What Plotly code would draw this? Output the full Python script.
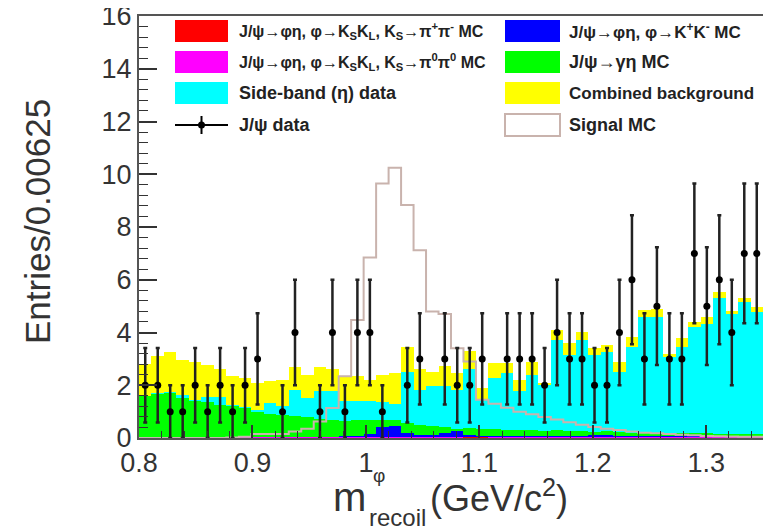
import plotly.graph_objects as go

# ---------------- data ----------------
x_min, x_max, n_bins = 0.8, 1.35, 50
bin_w = (x_max - x_min) / n_bins

jpsi_data = [2, 2, 1, 1, 2, 1, 2, 1, 2, 3, 0, 1, 4, 0, 1, 4, 1, 4, 4, 1,
             0, 2, 3, 0, 3, 2, 2, 3, 0, 3, 3, 3, 2, 4, 3, 3, 2, 2, 4, 6,
             3, 5, 3, 3, 7, 5, 6, 4, 7, 7]

# histogram tops as drawn (each drawn over the previous one)
combined_bkg = [2.8, 3.1, 3.25, 2.95, 2.9, 2.75, 2.6, 2.35, 2.27, 2.08,
                2.15, 2.2, 2.7, 2.4, 2.68, 2.6, 2.34, 2.34, 2.2, 2.4,
                2.46, 3.45, 2.6, 2.5, 2.72, 2.46, 3.28, 1.9, 2.84, 2.84,
                2.2, 2.9, 2.1, 4.09, 3.61, 4.03, 3.42, 3.52, 2.89, 3.84,
                4.87, 4.91, 3.2, 3.78, 4.4, 4.57, 5.54, 4.82, 5.29, 4.97]
sideband_eta = [1.6, 1.7, 1.75, 1.62, 1.45, 1.55, 1.55, 1.25, 1.18, 1.05,
                1.33, 1.2, 1.83, 1.5, 1.8, 1.8, 1.4, 1.4, 1.4, 1.35,
                1.3, 2.5, 1.83, 1.96, 1.96, 1.83, 2.6, 1.45, 2.27, 2.46,
                1.77, 2.4, 2.0, 3.71, 3.14, 3.71, 3.14, 3.27, 2.51, 3.46,
                4.6, 4.6, 3.08, 3.46, 4.22, 4.34, 5.29, 4.72, 5.16, 4.79]
gamma_eta_mc = [1.6, 1.65, 1.7, 1.5, 1.4, 1.35, 1.25, 1.2, 1.14, 1.0,
                0.92, 0.88, 0.82, 0.78, 0.72, 0.7, 0.65, 0.68, 0.7, 0.7,
                0.68, 0.55, 0.48, 0.45, 0.42, 0.35, 0.38, 0.35, 0.33, 0.3,
                0.32, 0.3, 0.28, 0.3, 0.28, 0.25, 0.22, 0.25, 0.22, 0.2,
                0.22, 0.2, 0.2, 0.18, 0.2, 0.18, 0.17, 0.16, 0.15, 0.14]
kk_mc = [0.03, 0.03, 0.03, 0.03, 0.03, 0.03, 0.03, 0.03, 0.03, 0.03,
         0.03, 0.03, 0.03, 0.03, 0.03, 0.03, 0.05, 0.08, 0.15, 0.4,
         0.45, 0.2, 0.12, 0.1, 0.2, 0.25, 0.1, 0.05, 0.05, 0.05,
         0.05, 0.05, 0.05, 0.05, 0.05, 0.05, 0.1, 0.1, 0.05, 0.05,
         0.05, 0.05, 0.05, 0.05, 0.1, 0.05, 0.05, 0.05, 0.05, 0.05]
kskl_00_mc = [0.03] * 50
kskl_pm_mc = [0.0, 0.0, 0.0, 0.0, 0.0, 0.0, 0.0, 0.0, 0.0, 0.0,
              0.0, 0.0, 0.0, 0.0, 0.0, 0.0, 0.0, 0.0, 0.0, 0.0,
              0.0, 0.0, 0.0, 0.0, 0.0, 0.0, 0.02, 0.03, 0.0, 0.0,
              0.0, 0.0, 0.0, 0.0, 0.0, 0.0, 0.0, 0.0, 0.0, 0.0,
              0.0, 0.0, 0.0, 0.0, 0.0, 0.0, 0.0, 0.0, 0.0, 0.0]
signal_mc = [0.0, 0.0, 0.0, 0.0, 0.0, 0.0, 0.0, 0.02, 0.05, 0.15,
             0.15, 0.15, 0.25, 0.35, 0.63, 1.14, 2.34, 4.47, 6.84, 9.65,
             10.25, 8.83, 7.12, 4.8, 4.7, 3.4, 2.9, 1.45, 1.3, 1.15,
             1.0, 0.9, 0.8, 0.7, 0.6, 0.5, 0.42, 0.35, 0.3, 0.25,
             0.2, 0.18, 0.15, 0.12, 0.1, 0.08, 0.07, 0.06, 0.05, 0.05]

x_ticks = [0.8, 0.9, 1.0, 1.1, 1.2, 1.3]
x_tick_labels = ["0.8", "0.9", "1", "1.1", "1.2", "1.3"]
y_ticks = [0, 2, 4, 6, 8, 10, 12, 14, 16]

legend_col1 = [
    "J/ψ→φη, φ→K<sub>S</sub>K<sub>L</sub>, K<sub>S</sub>→π<sup>+</sup>π<sup>-</sup> MC",
    "J/ψ→φη, φ→K<sub>S</sub>K<sub>L</sub>, K<sub>S</sub>→π<sup>0</sup>π<sup>0</sup> MC",
    "Side-band (η) data",
    "J/ψ data",
]
legend_col2 = [
    "J/ψ→φη, φ→K<sup>+</sup>K<sup>-</sup> MC",
    "J/ψ→γη MC",
    "Combined background",
    "Signal MC",
]

# ---------------- figure ----------------
centers = [x_min + bin_w * (i + 0.5) for i in range(n_bins)]
edges = [x_min + bin_w * i for i in range(n_bins + 1)]

# the page body has an 8 px margin: work in page pixels, figure is offset by 8
OFF = 8
W, H = 771 - OFF, 531 - OFF
L, R, T, B = 139, 763, 16, 438  # plot frame in page pixels


def px(xp):
    return (xp - L) / (R - L)


def py(yp):
    return (B - yp) / (B - T)


fig = go.Figure()

layers = [
    (combined_bkg, "#ffff00"),
    (sideband_eta, "#00ffff"),
    (gamma_eta_mc, "#00ff00"),
    (kk_mc, "#0000ff"),
    (kskl_00_mc, "#ff00ff"),
    (kskl_pm_mc, "#ff0000"),
]
for vals, col in layers:
    fig.add_trace(go.Bar(x=centers, y=vals, width=bin_w, marker=dict(color=col, line=dict(width=0)),
                         showlegend=False, hoverinfo="skip"))

# signal MC outline (step)
sx = [edges[0]] + centers + [edges[-1]]
sy = [signal_mc[0]] + signal_mc + [signal_mc[-1]]
fig.add_trace(go.Scatter(x=sx, y=sy, mode="lines", line=dict(shape="hvh", color="#c9b3ad", width=2),
                         showlegend=False, hoverinfo="skip"))

# data
dx = [c for c, v in zip(centers, jpsi_data) if v > 0]
dy = [v for v in jpsi_data if v > 0]
de = [v ** 0.5 for v in dy]
fig.add_trace(go.Scatter(x=dx, y=dy, mode="markers",
                         marker=dict(color="black", size=7),
                         error_y=dict(type="data", array=de, color="#222222", thickness=2.5, width=2),
                         showlegend=False))

fig.update_layout(
    width=W, height=H, autosize=False,
    margin=dict(l=L - OFF, r=(W + OFF) - R, t=T - OFF, b=(H + OFF) - B, autoexpand=False),
    paper_bgcolor="white", plot_bgcolor="white",
    barmode="overlay", bargap=0,
    font=dict(family="Liberation Sans, Arial, sans-serif", color="#333333"),
)
fig.update_xaxes(range=[x_min, x_max], tickvals=x_ticks, ticktext=x_tick_labels, automargin=False,
                 ticklabeloverflow="allow",
                 ticks="inside", ticklen=13, tickwidth=1.5, tickcolor="#333",
                 minor=dict(ticks="inside", ticklen=7, dtick=0.02, tick0=0.8, tickcolor="#333", tickwidth=1.2),
                 showline=True, mirror=True, linecolor="#555", linewidth=2,
                 showgrid=False, zeroline=False, tickfont=dict(size=27, color="#333"))
fig.update_yaxes(range=[0, 16], tickvals=y_ticks, automargin=False,
                 ticklabeloverflow="allow",
                 ticks="inside", ticklen=18, tickwidth=1.5, tickcolor="#333",
                 minor=dict(ticks="inside", ticklen=9, dtick=0.4, tick0=0, tickcolor="#333", tickwidth=1.2),
                 showline=True, mirror=True, linecolor="#555", linewidth=2,
                 showgrid=False, zeroline=False, tickfont=dict(size=27, color="#333"))

# ---- legend drawn by hand ----
rows = [31, 62, 93, 125]
sw1 = (175, 228)
sw2 = (505, 560)
col1_colors = ["#ff0000", "#ff00ff", "#00ffff", None]
col2_colors = ["#0000ff", "#00ff00", "#ffff00", "white"]
col1_sizes = [16, 16, 18, 18]
col2_sizes = [17, 18, 17, 18]
shapes = []
annots = []
ff = "Liberation Sans, Arial, sans-serif"
for i, yc in enumerate(rows):
    c1 = col1_colors[i]
    if c1:
        shapes.append(dict(type="rect", xref="paper", yref="paper", x0=px(sw1[0]), x1=px(sw1[1]),
                           y0=py(yc + 11), y1=py(yc - 11), fillcolor=c1, line=dict(width=0)))
    else:
        shapes.append(dict(type="line", xref="paper", yref="paper", x0=px(sw1[0]), x1=px(sw1[1]),
                           y0=py(yc), y1=py(yc), line=dict(color="black", width=2)))
        shapes.append(dict(type="line", xref="paper", yref="paper", x0=px(201.5), x1=px(201.5),
                           y0=py(yc + 9), y1=py(yc - 9), line=dict(color="black", width=2)))
        shapes.append(dict(type="circle", xref="paper", yref="paper", x0=px(198), x1=px(205),
                           y0=py(yc + 3.5), y1=py(yc - 3.5), fillcolor="black", line=dict(width=0)))
    annots.append(dict(xref="paper", yref="paper", x=px(237), y=py(yc), xanchor="left", yanchor="middle",
                       text="<b>" + legend_col1[i] + "</b>", showarrow=False,
                       font=dict(family=ff, size=col1_sizes[i], color="#222")))
    c2 = col2_colors[i]
    if c2 == "white":
        shapes.append(dict(type="rect", xref="paper", yref="paper", x0=px(sw2[0]), x1=px(sw2[1]),
                           y0=py(yc + 11), y1=py(yc - 11), fillcolor="white",
                           line=dict(color="#c9b3ad", width=2)))
    else:
        shapes.append(dict(type="rect", xref="paper", yref="paper", x0=px(sw2[0]), x1=px(sw2[1]),
                           y0=py(yc + 11), y1=py(yc - 11), fillcolor=c2, line=dict(width=0)))
    annots.append(dict(xref="paper", yref="paper", x=px(567), y=py(yc), xanchor="left", yanchor="middle",
                       text="<b>" + legend_col2[i] + "</b>", showarrow=False,
                       font=dict(family=ff, size=col2_sizes[i], color="#222")))

# axis titles
annots.append(dict(xref="paper", yref="paper", x=px(37), y=py(222), xanchor="center", yanchor="middle",
                   text="Entries/0.00625", textangle=-90, showarrow=False,
                   font=dict(family=ff, size=35, color="#333")))
annots.append(dict(xref="paper", yref="paper", x=px(368), y=py(497), xanchor="right", yanchor="middle",
                   text="m", showarrow=False, font=dict(family=ff, size=40, color="#333")))
annots.append(dict(xref="paper", yref="paper", x=px(371), y=py(475), xanchor="left", yanchor="middle",
                   text="φ", showarrow=False, font=dict(family=ff, size=19, color="#333")))
annots.append(dict(xref="paper", yref="paper", x=px(367), y=py(517), xanchor="left", yanchor="middle",
                   text="recoil", showarrow=False, font=dict(family=ff, size=24, color="#333")))
annots.append(dict(xref="paper", yref="paper", x=px(428), y=py(496), xanchor="left", yanchor="middle",
                   text="(GeV/c<sup>2</sup>)", showarrow=False, font=dict(family=ff, size=36, color="#333")))

fig.update_layout(shapes=shapes, annotations=annots)
fig.write_html("out.html")
